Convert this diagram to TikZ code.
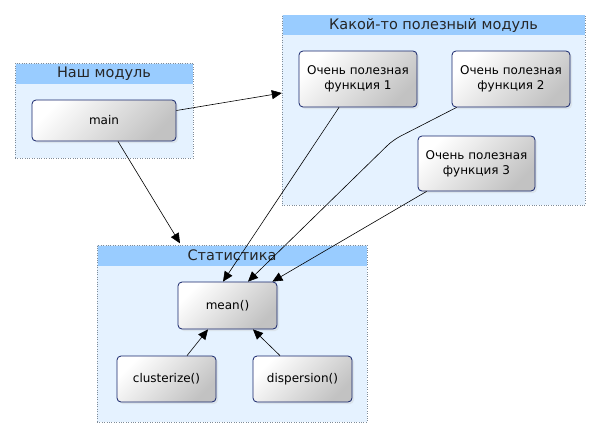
\documentclass[tikz,border=0pt]{standalone}
\usepackage{fontspec}
\setmainfont{DejaVu Sans}
\usepackage{tikz}
\usetikzlibrary{
	arrows.meta,
	shadows
}

\definecolor{modfill}{HTML}{E5F2FF}
\definecolor{modhead}{HTML}{99CCFF}
\definecolor{modline}{HTML}{7F8C99}
\definecolor{fnline}{HTML}{15246A}

\tikzset{
	module/.style={fill=modfill,draw=modline,dotted,inner sep=0pt},
	modtitle/.style={fill=modhead,inner sep=0pt,minimum height=20pt,text=black!85,
		font=\fontsize{14.5}{16}\selectfont},
	func/.style={line width=0.8pt,rounded corners=4pt,left color=white,right color=black!24,
		shading angle=45,align=center,inner sep=0pt,font=\fontsize{12}{15}\selectfont,
		postaction={draw=fnline},
		drop shadow={shadow xshift=2pt,shadow yshift=-2pt,fill=modline!35,draw=none}},
	call/.style={-{Triangle[length=10pt,width=9pt]},black,line width=0.6pt}
}

\begin{document}
\begin{tikzpicture}[x=1pt,y=-1pt]
		\useasboundingbox (0,0) rectangle (601,436);

		% modules
		\node[module,minimum width=178pt,minimum height=95pt]  (ours)   at (104,110.5) {};
		\node[modtitle,minimum width=177pt,anchor=north]       (oursT)  at ([yshift=-0.5pt]ours.north) {Наш модуль};
		\node[module,minimum width=303pt,minimum height=190pt] (useful) at (433.5,110) {};
		\node[modtitle,minimum width=302pt,anchor=north]       (usefulT) at ([yshift=-0.5pt]useful.north) {Какой-то полезный модуль};
		\node[module,minimum width=270pt,minimum height=177pt] (stat)   at (232,333.5) {};
		\node[modtitle,minimum width=269pt,anchor=north]       (statT)  at ([yshift=-0.5pt]stat.north) {Статистика};

		% functions
		\node[func,minimum width=144pt,minimum height=41pt] (main) at (104,120.5)   {main};
		\node[func,minimum width=118pt,minimum height=56pt] (f1)   at (358,79)      {Очень полезная\\функция 1};
		\node[func,minimum width=118pt,minimum height=56pt] (f2)   at (511,79)      {Очень полезная\\функция 2};
		\node[func,minimum width=117pt,minimum height=55pt] (f3)   at (476.5,163.5) {Очень полезная\\функция 3};
		\node[func,minimum width=99pt,minimum height=47pt]  (mean) at (227.5,305.5) {mean()};
		\node[func,minimum width=99pt,minimum height=46pt]  (clu)  at (166.5,379)   {clusterize()};
		\node[func,minimum width=99pt,minimum height=46pt]  (disp) at (302.5,379)   {dispersion()};

		\coordinate (bend) at (393,140);

		\draw
			([yshift=10pt]main.east)     edge[call] ([yshift=17pt]useful.west)
			([xshift=14pt]main.south)    edge[call] ([xshift=-52pt,yshift=1.5pt]stat.north)
			([xshift=-19pt]f1.south)     edge[call] ([xshift=-4.5pt]mean.north)
			([xshift=9pt]f3.south west)  edge[call] ([xshift=-5pt]mean.north east)
			([xshift=20.5pt]clu.north)   edge[call] ([xshift=-19.5pt]mean.south)
			([xshift=-22.5pt]disp.north) edge[call] ([xshift=25.5pt]mean.south)
		;
		\draw[call,rounded corners=8pt] ([xshift=5pt]f2.south west) -- (bend) -- ([xshift=20.5pt]mean.north);
	\end{tikzpicture}
\end{document}
